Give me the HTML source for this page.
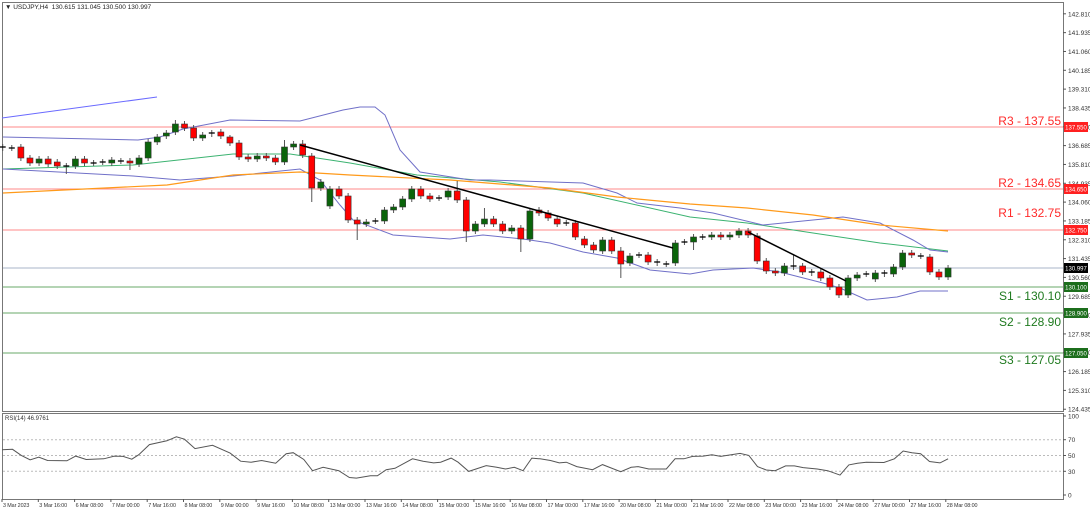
<!DOCTYPE html>
<html><head><meta charset="utf-8">
<style>
html,body{margin:0;padding:0;background:#fff;}
svg{display:block;font-family:"Liberation Sans",sans-serif;}
</style></head>
<body>
<svg id="c" width="1090" height="510" xmlns="http://www.w3.org/2000/svg"></svg>
<script>
var s=document.getElementById('c');var h='';
function L(x1,y1,x2,y2,c,w,extra){h+='<line x1="'+x1+'" y1="'+y1+'" x2="'+x2+'" y2="'+y2+'" stroke="'+c+'" stroke-width="'+(w||1)+'" '+(extra||'')+'/>';}
function T(x,y,t,sz,c,anchor,extra){h+='<text x="'+x+'" y="'+y+'" font-size="'+sz+'" fill="'+c+'" text-anchor="'+(anchor||'start')+'" '+(extra||'')+'>'+t+'</text>';}
function P(pts,c,w){h+='<polyline fill="none" stroke="'+c+'" stroke-width="'+(w||1)+'" points="'+pts.map(function(p){return p[0]+','+p[1]}).join(' ')+'"/>';}
h+='<rect x="2.5" y="2.5" width="1061" height="409" fill="none" stroke="#777" stroke-width="1"/>';
h+='<rect x="2.5" y="413.5" width="1061" height="86" fill="none" stroke="#777" stroke-width="1"/>';
function py(p){return 127+(137.55-p)*21.52;}
for(var i=0;i<=21;i++){var p=142.810-i*0.875;var y=py(p);L(1063,y,1066,y,'#555');T(1068,y+2.5,p.toFixed(3),6.5,'#333');}
function ry(v){return 416+(100-v)*0.79;}
[70,50,30].forEach(function(v){L(3,ry(v),1063,ry(v),'#bbb',1,'stroke-dasharray="2,2"');});
[100,70,50,30,0].forEach(function(v){L(1063,ry(v),1066,ry(v),'#555');T(1068,ry(v)+2.5,v,6.5,'#333');});
var xl=['3 Mar 2023','3 Mar 16:00','6 Mar 08:00','7 Mar 00:00','7 Mar 16:00','8 Mar 08:00','9 Mar 00:00','9 Mar 16:00','10 Mar 08:00','13 Mar 00:00','13 Mar 16:00','14 Mar 08:00','15 Mar 00:00','15 Mar 16:00','16 Mar 08:00','17 Mar 00:00','17 Mar 16:00','20 Mar 08:00','21 Mar 00:00','21 Mar 16:00','22 Mar 08:00','23 Mar 00:00','23 Mar 16:00','24 Mar 08:00','27 Mar 00:00','27 Mar 16:00','28 Mar 08:00'];
xl.forEach(function(t,k){var x=2+k*36.3;L(x,499,x,502,'#555');T(x+1,507,t,5.4,'#333','start','letter-spacing="-0.1"');});
function lvl(y,col,txt,ty,tc,tag,tagc){L(3,y,1063,y,col,1);T(1061,ty,txt,12,tc,'end');h+='<rect x="1064" y="'+(y-5)+'" width="24" height="10" fill="'+tagc+'"/>';T(1076,y+2.5,tag,6,'#fff','middle');}
lvl(127,'#ff8a8a','R3 - 137.55',125,'#ff2a2a','137.550','#ff2020');
lvl(189,'#ff8a8a','R2 - 134.65',187,'#ff2a2a','134.650','#ff2020');
lvl(230,'#ff8a8a','R1 - 132.75',217,'#ff2a2a','132.750','#ff2020');
lvl(287,'#6aa86a','S1 - 130.10',300,'#1f7a1f','130.100','#1c6e1c');
lvl(313,'#6aa86a','S2 - 128.90',326,'#1f7a1f','128.900','#1c6e1c');
lvl(353,'#6aa86a','S3 - 127.05',364,'#1f7a1f','127.050','#1c6e1c');
L(3,268,1063,268,'#aab4c8',1);
h+='<rect x="1064" y="263" width="24" height="10" fill="#000"/>';T(1076,270.5,'130.997',6,'#fff','middle');
P([[2,118],[157,97]],'#6a6aff',1);
P([[3,169],[133,165],[233,154],[290,154],[317,158],[350,163],[417,175],[500,182],[583,193],[690,217],[747,223],[813,233],[880,243],[948,251]],'#3cb371',1);
P([[3,137],[138,140],[160,137],[183,129],[230,120],[300,121],[343,110],[360,107],[375,107],[385,115],[400,150],[420,172],[470,180],[490,180],[583,183],[617,193],[637,203],[680,208],[713,213],[763,225],[813,220],[843,217],[880,223],[913,240],[930,250],[948,252]],'#7070c8',1);
P([[3,169],[133,176],[180,180],[233,176],[300,169],[320,180],[340,205],[353,220],[393,235],[450,239],[483,235],[523,239],[550,243],[583,252],[617,258],[650,270],[690,274],[713,270],[753,268],[780,272],[823,283],[840,288],[867,300],[897,297],[920,291],[948,291]],'#7070c8',1);
P([[3,193],[167,185],[233,175],[300,172],[350,175],[450,180],[550,188],[617,197],[690,204],[747,208],[813,215],[880,225],[948,231]],'#ff9a1a',1.2);
var d=[[147,148],[148,148,145,151],[147,158],[158,163],[163,159],[159,164],[162,166],[166,166,163,174],[166,159],[159,163],[163,163],[162,162],[163,160],[161,161],[161,163,158,170],[164,158],[158,142],[142,137],[136,133],[132,124,120],[124,128],[128,138],[138,135],[134,133],[132,136],[137,143,135],[143,157],[157,159],[159,156],[156,158],[158,162],[162,147,140],[147,144],[144,155,140],[156,188,153,202],[188,182],[206,189],[189,196],[196,220],[220,224,217,240],[224,222],[221,221],[221,210],[210,207],[207,199],[199,189],[189,196],[196,199],[198,198],[197,191],[191,200,181],[200,231,197,242],[231,224],[224,219,208],[219,224],[224,231],[231,228],[228,239,225,252],[239,211],[210,213],[213,218],[219,224],[223,223],[223,237],[239,245],[245,250],[251,240],[240,251],[251,264,247,278],[263,256],[255,255],[255,262],[262,263],[264,264],[263,243],[242,242],[242,237,234,250],[237,237],[237,235],[235,237],[237,235],[235,231],[231,235],[236,261],[261,271],[271,273],[273,266],[266,266,254,270],[266,272],[272,273],[272,278],[278,287],[287,295],[295,278],[278,275],[274,274],[279,273],[273,274],[274,267],[267,253],[253,255],[256,256],[257,272],[272,277],[277,268]];
d.forEach(function(c,i){var x=2.7+i*9.09;var o=c[0],cl=c[1];var top=Math.min(o,cl),bot=Math.max(o,cl);var hi=c[2]!==undefined?c[2]:top-3,lo=c[3]!==undefined?c[3]:bot+3;
L(x,hi,x,lo,'#555',1);
if(bot-top<1.5){L(x-3,top,x+3,top,'#000',1.3);}
else{var col=cl<o?'#0a640a':'#ff0000';h+='<rect x="'+(x-3)+'" y="'+top+'" width="6" height="'+(bot-top)+'" fill="'+col+'" stroke="#333" stroke-width="0.6"/>';}
});
L(300,145,673,248,'#000',1.5);
L(748,232,846,281,'#000',1.5);
var r1=[[0,58],[30,57],[55,75],[80,88],[105,80],[130,90],[185,91],[210,77],[240,87],[290,85],[320,77],[345,78],[370,86],[390,73],[420,43],[470,32],[497,20],[520,27],[550,55],[600,45],[650,68],[680,92],[710,95],[740,90],[780,98],[810,70],[830,67],[860,87],[885,120],[915,110],[960,120],[990,140],[1010,142],[1050,135],[1070,135],[1095,117],[1120,113],[1170,85],[1200,92],[1230,97],[1250,95],[1280,83],[1300,95],[1330,122],[1380,105],[1410,110],[1435,115],[1460,110],[1485,120],[1510,83],[1530,85]];
var r2=[[0,85],[30,90],[55,97],[75,95],[105,108],[150,117],[178,102],[230,123],[260,110],[280,108],[310,115],[360,115],[385,85],[410,85],[435,78],[465,77],[490,73],[515,78],[545,73],[570,69],[595,75],[620,108],[645,118],[670,120],[700,106],[725,106],[750,111],[790,115],[820,120],[855,133],[880,103],[905,98],[930,95],[980,96],[1010,85],[1035,62],[1060,67],[1085,70],[1110,93],[1140,97],[1163,85]];
var k=2.85;var rp=r1.map(function(p){return [(p[0]/k+2).toFixed(1),(430+p[1]/2.95).toFixed(1)]}).concat(r2.map(function(p){return [(540+p[0]/k).toFixed(1),(430+p[1]/2.95).toFixed(1)]}));
P(rp,'#555',1);
T(5,420,'RSI(14) 46.9761',6,'#333');
T(5,9,'▼ USDJPY,H4  130.615 131.045 130.500 130.997',6.5,'#222','start','xml:space="preserve"');
s.innerHTML=h;
</script>
</body></html>
